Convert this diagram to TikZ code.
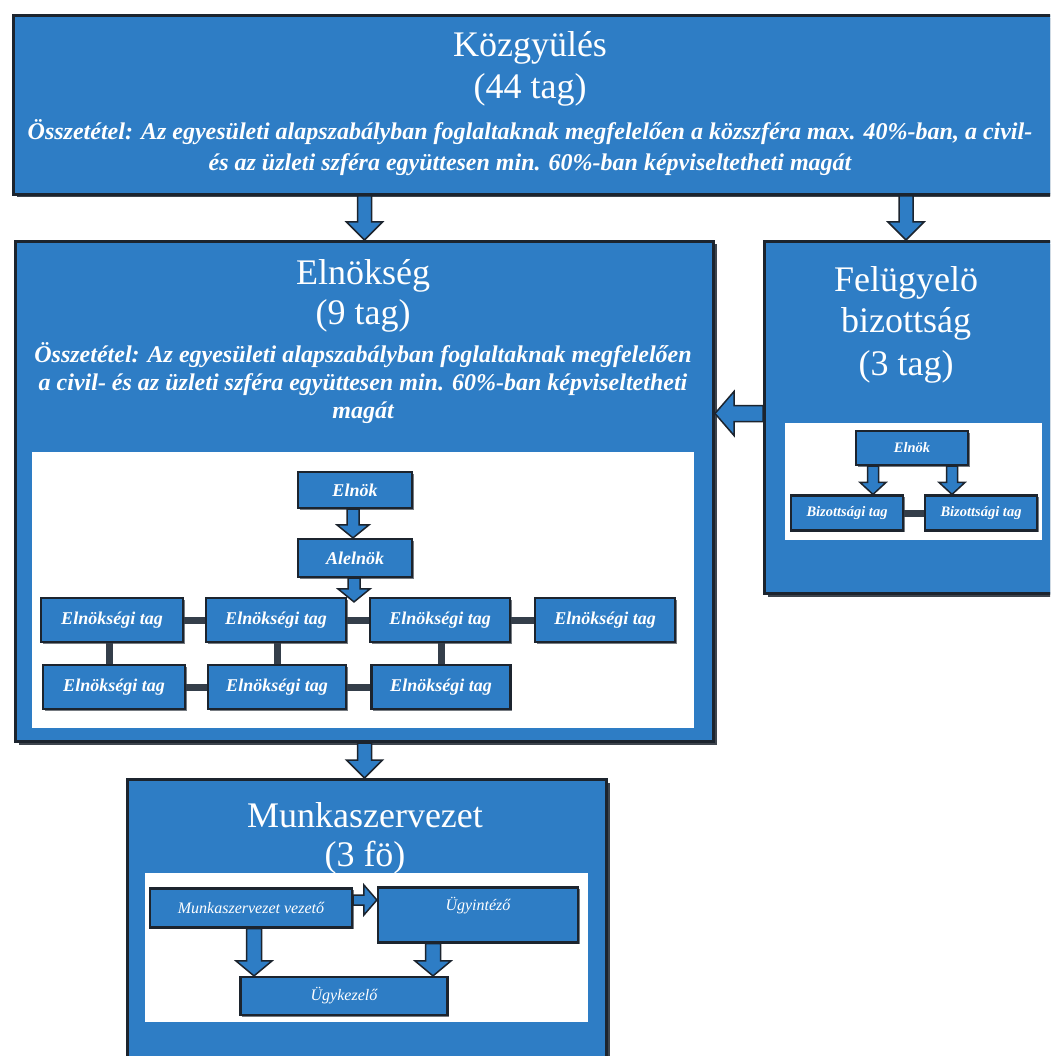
\documentclass[tikz,border=0pt]{standalone}
\usepackage{fontspec}
\setmainfont{Liberation Serif}
\usetikzlibrary{calc,shadows}
\definecolor{bblue}{RGB}{46,125,197}
\definecolor{bdark}{RGB}{28,36,46}
\definecolor{lgray}{RGB}{52,62,74}
\tikzset{
  bigbox/.style={draw=bdark, line width=3pt, fill=bblue, anchor=north west, inner sep=0pt,
    drop shadow={shadow xshift=3pt, shadow yshift=-3pt, fill=bdark, opacity=0.85}},
  panel/.style={fill=white, draw=none, anchor=north west, inner sep=0pt},
  sbox/.style={draw=bdark, line width=2.2pt, fill=bblue, inner sep=0pt, text=white,
    font=\bfseries\itshape\fontsize{18}{20}\selectfont,
    drop shadow={shadow xshift=1.5pt, shadow yshift=-1.5pt, fill=bdark, opacity=0.6}},
  fbox/.style={sbox, font=\bfseries\itshape\fontsize{14.5}{16}\selectfont},
  mbox/.style={sbox, font=\itshape\fontsize{16}{18}\selectfont},
  ttl/.style={text=white, font=\fontsize{36}{40}\selectfont, inner sep=0pt, align=center},
  desc/.style={text=white, font=\bfseries\itshape\fontsize{24}{31}\selectfont, align=center, inner sep=0pt},
  link/.style={draw=lgray, line width=7pt},
  bdims/.code args={#1/#2/#3}{\def\bas{#1}\def\bah{#2}\def\bal{#3}},
  barrow/.style={fill=bblue, draw=bdark, line width=1.5pt, line join=miter,
    to path={let \p1=(\tikztostart), \p2=(\tikztotarget),
      \n1={atan2(\y2-\y1,\x2-\x1)}, \n2={veclen(\x2-\x1,\y2-\y1)} in
      ($(\p1)+({\n1+90}:{\bas})$)
      -- ($(\p1)+({\n1}:{\n2-\bal})+({\n1+90}:{\bas})$)
      -- ($(\p1)+({\n1}:{\n2-\bal})+({\n1+90}:{\bah})$)
      -- (\p2)
      -- ($(\p1)+({\n1}:{\n2-\bal})+({\n1-90}:{\bah})$)
      -- ($(\p1)+({\n1}:{\n2-\bal})+({\n1-90}:{\bas})$)
      -- ($(\p1)+({\n1-90}:{\bas})$) -- cycle}},
  bigarrow/.style={barrow, bdims=7pt/18pt/18pt},
  smallarrow/.style={barrow, bdims=5.5pt/13pt/12pt},
  marrow/.style={barrow, bdims=7.5pt/18pt/15pt}
}
\begin{document}
\begin{tikzpicture}[x=1pt,y=-1pt]
\useasboundingbox (0,0) rectangle (1050,1056);
\fill[white] (0,0) rectangle (1050,1056);
\clip (0,0) rectangle (1050,1056);

% ---------- big boxes ----------
\node[bigbox, minimum width=1050pt, minimum height=179pt] (kozgy) at (12,14) {};
\node[bigbox, minimum width=698pt, minimum height=500pt] (elnokseg) at (14,240) {};
\node[bigbox, minimum width=300pt, minimum height=352pt] (fb) at (763,240) {};
\node[bigbox, minimum width=479pt, minimum height=290pt] (munka) at (126,778) {};

% ---------- titles ----------
\node[ttl] (kt1) at (530,48) {Közgyülés};
\node[ttl] (kt2) at (530,90) {(44 tag)};
\node[desc] (kd) at (530,148) {Összetétel: Az egyesületi alapszabályban foglaltaknak megfelelően a közszféra max. 40\%-ban, a civil-\\és az üzleti szféra együttesen min. 60\%-ban képviseltetheti magát};

\node[ttl] (et1) at (363,276) {Elnökség};
\node[ttl] (et2) at (363,316) {(9 tag)};
\node[desc, font=\bfseries\itshape\fontsize{24}{28}\selectfont] (ed) at (363,383) {Összetétel: Az egyesületi alapszabályban foglaltaknak megfelelően\\a civil- és az üzleti szféra együttesen min. 60\%-ban képviseltetheti\\magát};

\node[ttl] (ft1) at (906,283) {Felügyelö};
\node[ttl] (ft2) at (906,324) {bizottság};
\node[ttl] (ft3) at (906,367) {(3 tag)};

\node[ttl] (mt1) at (365,815) {Munkaszervezet};
\node[ttl] (mt2) at (365,858) {(3 fö)};

% ---------- white panels ----------
\node[panel, minimum width=662pt, minimum height=276pt] (epanel) at (32,452) {};
\node[panel, minimum width=257pt, minimum height=117pt] (fpanel) at (785,423) {};
\node[panel, minimum width=443pt, minimum height=149pt] (mpanel) at (145,873) {};

% ---------- Elnökség inner ----------
\node[sbox, minimum width=114pt, minimum height=36pt] (elnok) at (355,490) {Elnök};
\node[sbox, minimum width=114pt, minimum height=38pt] (alelnok) at (355,558) {Alelnök};
\node[sbox, minimum width=142pt, minimum height=44pt] (r1a) at (112,620) {Elnökségi tag};
\node[sbox, minimum width=140pt, minimum height=44pt] (r1b) at (276,620) {Elnökségi tag};
\node[sbox, minimum width=140pt, minimum height=44pt] (r1c) at (440,620) {Elnökségi tag};
\node[sbox, minimum width=140pt, minimum height=44pt] (r1d) at (605,620) {Elnökségi tag};
\node[sbox, minimum width=142pt, minimum height=44pt] (r2a) at (114,687) {Elnökségi tag};
\node[sbox, minimum width=138pt, minimum height=44pt] (r2b) at (277,687) {Elnökségi tag};
\node[sbox, minimum width=139pt, minimum height=44pt] (r2c) at (441,687) {Elnökségi tag};

\coordinate (va) at ($(r1a.south)+(-3,0)$);
\coordinate (vb) at ($(r1b.south)+(1,0)$);
\coordinate (vc) at ($(r1c.south)+(1,0)$);
\draw[link] (r1a.east) -- (r1b.west);
\draw[link] (r1b.east) -- (r1c.west);
\draw[link] (r1c.east) -- (r1d.west);
\draw[link] (r2a.east) -- (r2b.west);
\draw[link] (r2b.east) -- (r2c.west);
\draw[link] (va) -- (va |- r2a.north);
\draw[link] (vb) -- (vb |- r2b.north);
\draw[link] (vc) -- (vc |- r2c.north);

\coordinate (e1s) at ($(elnok.south)+(-2,0)$);
\coordinate (e1t) at (e1s |- alelnok.north);
\coordinate (a1s) at ($(alelnok.south)+(-1,0)$);
\coordinate (a1t) at ($(a1s |- r1b.north)+(0,5)$);
\draw[smallarrow, bdims=6pt/16pt/13pt] (e1s) to (e1t);
\draw[smallarrow, bdims=6pt/16pt/13pt] (a1s) to (a1t);

% ---------- Felügyelő inner ----------
\node[fbox, minimum width=112pt, minimum height=34pt] (fe) at (912,448) {Elnök};
\node[fbox, minimum width=112pt, minimum height=35pt] (fb1) at (847,513) {Bizottsági tag};
\node[fbox, minimum width=112pt, minimum height=35pt] (fb2) at (981,513) {Bizottsági tag};
\draw[link] (fb1.east) -- (fb2.west);
\coordinate (f1s) at ($(fe.south)+(-39,0)$);
\coordinate (f1t) at (f1s |- fb1.north);
\coordinate (f2s) at ($(fe.south)+(40,0)$);
\coordinate (f2t) at (f2s |- fb2.north);
\draw[smallarrow] (f1s) to (f1t);
\draw[smallarrow] (f2s) to (f2t);

% ---------- Munkaszervezet inner ----------
\node[mbox, minimum width=202pt, minimum height=39pt] (mv) at (251,908) {Munkaszervezet vezető};
\node[mbox, minimum width=200pt, minimum height=55pt, text depth=22pt] (ui) at (478,915) {Ügyintéző};
\node[mbox, minimum width=207pt, minimum height=38pt] (uk) at (344,996) {Ügykezelő};
\coordinate (m1s) at ($(mv.east)+(0,-8)$);
\coordinate (m1t) at (m1s -| ui.west);
\coordinate (m2s) at ($(mv.south)+(3,0)$);
\coordinate (m2t) at (m2s |- uk.north);
\coordinate (m3s) at ($(ui.south)+(-45,0)$);
\coordinate (m3t) at (m3s |- uk.north);
\draw[barrow, bdims=5pt/15pt/13pt] (m1s) to (m1t);
\draw[marrow] (m2s) to (m2t);
\draw[marrow] (m3s) to (m3t);

% ---------- main arrows ----------
\coordinate (k1s) at (kozgy.south -| elnokseg.north);
\coordinate (k1t) at (elnokseg.north);
\coordinate (k2s) at (kozgy.south -| ft1);
\coordinate (k2t) at (ft1 |- fb.north);
\coordinate (lfs) at ($(fb.west)+(0,-4)$);
\coordinate (lft) at (lfs -| elnokseg.east);
\coordinate (dms) at (elnokseg.south);
\coordinate (dmt) at (elnokseg.south |- munka.north);
\draw[bigarrow] (k1s) to (k1t);
\draw[bigarrow] (k2s) to (k2t);
\draw[bigarrow, bdims=8pt/22pt/19pt] (lfs) to (lft);
\draw[bigarrow] (dms) to (dmt);
\end{tikzpicture}
\end{document}
